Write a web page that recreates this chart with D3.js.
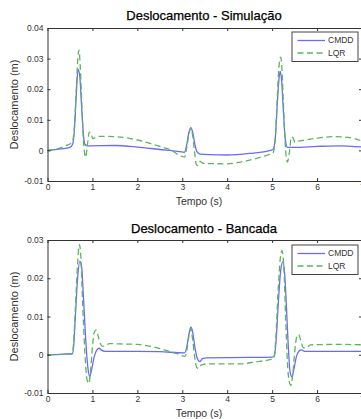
<!DOCTYPE html>
<html><head><meta charset="utf-8">
<script src="https://cdn.jsdelivr.net/npm/d3@7"></script>
<style>body{margin:0;background:#fff}svg{display:block}text{font-family:"Liberation Sans",Arial,sans-serif}</style>
</head><body>
<svg id="c" width="361" height="419"></svg>
<script>
const titles = ["Deslocamento - Simulação", "Deslocamento - Bancada"];
const seriesNames = ["CMDD", "LQR"];
const xTicks = [0,1,2,3,4,5,6,7];
const yTicksSim = [-0.01,0,0.01,0.02,0.03,0.04];
const yTicksBan = [-0.01,0,0.01,0.02,0.03];
const yTickLabels = {"-0.01":"-0.01","0":"0","0.01":"0.01","0.02":"0.02","0.03":"0.03","0.04":"0.04"};

const simT_CMDD = [0,0.3,0.5,0.56,0.6,0.64,0.68,0.72,0.76,0.8,0.84,0.9,1.5,2.0,2.5,2.9,3.05,3.1,3.15,3.19,3.23,3.28,3.33,3.4,3.6,4.0,4.5,4.9,5.02,5.07,5.11,5.15,5.18,5.21,5.25,5.29,5.34,5.5,6.0,6.5,7.0];
const simY_CMDD = [0,0.0005,0.001,0.002,0.007,0.018,0.0265,0.024,0.014,0.005,0.0018,0.0015,0.0016,0.0011,0.0003,-0.0003,-0.0006,0.002,0.006,0.0074,0.006,0.002,-0.0005,-0.0012,-0.0014,-0.0015,-0.001,-0.0002,0.0003,0.004,0.014,0.023,0.0258,0.023,0.013,0.004,0.001,0.001,0.0013,0.0015,0.0011];
const simT_LQR = [0,0.2,0.4,0.55,0.6,0.64,0.68,0.7,0.73,0.77,0.81,0.85,0.89,0.93,0.97,1.01,1.06,1.15,1.5,1.8,2.0,2.3,2.5,2.75,2.95,3.05,3.1,3.15,3.19,3.23,3.27,3.31,3.34,3.4,3.46,3.6,4.0,4.3,4.6,4.9,5.02,5.07,5.11,5.15,5.19,5.22,5.26,5.3,5.34,5.38,5.43,5.47,5.51,5.56,5.7,6.0,6.4,6.8,7.0];
const simY_LQR = [0,0.0005,0.0015,0.0027,0.008,0.02,0.031,0.0328,0.027,0.013,0.001,-0.0022,0.002,0.006,0.0055,0.0038,0.0042,0.0046,0.0045,0.004,0.0034,0.0022,0.0013,0.0001,-0.0017,-0.0022,0.001,0.0055,0.0072,0.005,0,-0.0045,-0.005,-0.0036,-0.0042,-0.0043,-0.0044,-0.0038,-0.0028,-0.0015,-0.0008,0.004,0.016,0.027,0.0305,0.026,0.012,0,-0.0038,-0.001,0.0044,0.004,0.0026,0.003,0.0033,0.004,0.0045,0.004,0.003];

const banT_CMDD = [0,0.3,0.4,0.55,0.58,0.62,0.67,0.72,0.76,0.8,0.85,0.9,0.94,0.98,1.04,1.1,1.15,1.2,1.28,2.0,2.5,3.05,3.1,3.15,3.19,3.23,3.28,3.33,3.39,3.45,3.55,4.5,5.0,5.05,5.09,5.14,5.19,5.24,5.28,5.32,5.36,5.4,5.44,5.48,5.54,5.6,5.65,5.72,6.0,7.0];
const banY_CMDD = [0,0.0001,0.0002,0.0002,0.002,0.01,0.02,0.0245,0.023,0.015,0.004,-0.0035,-0.0057,-0.004,-0.0005,0.0013,0.0017,0.0012,0.0009,0.0009,0.0008,0.0005,0.002,0.0055,0.0072,0.006,0.002,-0.0008,-0.0018,-0.001,-0.0008,-0.0007,-0.0006,-0.0003,0.004,0.014,0.022,0.0243,0.021,0.012,0.002,-0.0045,-0.0058,-0.004,-0.0005,0.001,0.0013,0.0009,0.0009,0.0009];
const banT_LQR = [0,0.3,0.4,0.55,0.58,0.62,0.67,0.71,0.74,0.78,0.83,0.88,0.92,0.96,1.0,1.04,1.08,1.12,1.18,1.23,1.3,1.38,1.7,2.0,2.3,2.6,2.9,3.06,3.1,3.15,3.19,3.23,3.27,3.32,3.36,3.42,3.55,4.3,4.6,5.0,5.04,5.08,5.13,5.18,5.22,5.26,5.3,5.34,5.38,5.42,5.46,5.5,5.55,5.59,5.63,5.7,5.76,5.85,6.5,7.0];
const banY_LQR = [0,0.0001,0.0003,0.0003,0.003,0.012,0.024,0.0288,0.026,0.014,0.001,-0.0065,-0.0075,-0.004,0.002,0.0058,0.0065,0.0052,0.0028,0.0022,0.0025,0.0029,0.0028,0.0027,0.0022,0.0013,0.0002,-0.0004,0.001,0.005,0.0068,0.004,0,-0.0033,-0.0036,-0.0027,-0.0024,-0.0024,-0.0019,-0.0011,-0.0008,0.004,0.016,0.025,0.0272,0.023,0.01,-0.002,-0.007,-0.008,-0.005,0.0005,0.0048,0.0053,0.004,0.0018,0.0018,0.0026,0.0027,0.0026];

const panels = [
  {title:titles[0], top:28, bottom:181, yDomain:[-0.01,0.04], yTicks:yTicksSim,
   series:[[simT_CMDD,simY_CMDD],[simT_LQR,simY_LQR]], titleY:20, xlabY:205, leg:[292,32]},
  {title:titles[1], top:240, bottom:393, yDomain:[-0.01,0.03], yTicks:yTicksBan,
   series:[[banT_CMDD,banY_CMDD],[banT_LQR,banY_LQR]], titleY:232.5, xlabY:416.5, leg:[292,245]}
];
const colors = ["#6a6aff", "#5cb55c"];
const dashes = [null, "6,3.5"];
const left = 47.5, right = 362;
const svg = d3.select("#c");
const axisCol = "#333";

panels.forEach(p => {
  const x = d3.scaleLinear().domain([0,7]).range([left,right]);
  const y = d3.scaleLinear().domain(p.yDomain).range([p.bottom,p.top]);
  const g = svg.append("g");
  p.series.forEach((s,i) => {
    const pts = s[0].map((t,k)=>[t,s[1][k]]);
    g.append("path").datum(pts)
      .attr("fill","none").attr("stroke",colors[i]).attr("stroke-width",1.3)
      .attr("stroke-dasharray",dashes[i])
      .attr("d", d3.line().x(d=>x(d[0])).y(d=>y(d[1])).curve(d3.curveMonotoneX));
  });
  const ax = (a, tr) => {
    const gg = g.append("g").attr("transform",tr).call(a);
    gg.select(".domain").attr("stroke",axisCol);
    gg.selectAll(".tick line").attr("stroke",axisCol);
    gg.selectAll("text").attr("fill","#333").style("font-size","8.5px").style("font-family",'"Liberation Sans",Arial,sans-serif');
    return gg;
  };
  ax(d3.axisBottom(x).tickValues(xTicks).tickSize(-3).tickSizeOuter(0).tickPadding(3).tickFormat(d3.format("d")),
     `translate(0,${p.bottom})`).selectAll("text").attr("dy","0.71em");
  ax(d3.axisTop(x).tickValues(xTicks).tickSize(-3).tickSizeOuter(0).tickFormat(""), `translate(0,${p.top})`);
  ax(d3.axisLeft(y).tickValues(p.yTicks).tickSize(-3).tickSizeOuter(0).tickPadding(4)
       .tickFormat(d=>yTickLabels[String(+d.toFixed(2))]), `translate(${left},0)`);
  ax(d3.axisRight(y).tickValues(p.yTicks).tickSize(-3).tickSizeOuter(0).tickFormat(""), `translate(${right},0)`);
  g.append("text").attr("x",204).attr("y",p.titleY).attr("text-anchor","middle")
    .style("font-size","13px").attr("fill","#000").attr("stroke","#000").attr("stroke-width",0.25).text(p.title);
  g.append("text").attr("x",199).attr("y",p.xlabY).attr("text-anchor","middle")
    .style("font-size","10.5px").attr("fill","#333").text("Tempo (s)");
  const cy = (p.top+p.bottom)/2;
  g.append("text").attr("transform",`translate(18,${cy}) rotate(-90)`).attr("text-anchor","middle")
    .style("font-size","11px").attr("fill","#333").text("Deslocamento (m)");
  const [lx,ly] = p.leg;
  g.append("rect").attr("x",lx).attr("y",ly).attr("width",66).attr("height",29.5)
    .attr("fill","#fff").attr("stroke","#444").attr("stroke-width",1);
  seriesNames.forEach((n,i)=>{
    const yy = ly + 8.5 + i*12.5;
    g.append("line").attr("x1",lx+5.5).attr("x2",lx+33).attr("y1",yy).attr("y2",yy)
      .attr("stroke",colors[i]).attr("stroke-width",1.3).attr("stroke-dasharray",dashes[i]);
    g.append("text").attr("x",lx+36).attr("y",yy).attr("dy","0.35em")
      .style("font-size","8.5px").attr("fill","#333").text(n);
  });
});
</script>
</body></html>
